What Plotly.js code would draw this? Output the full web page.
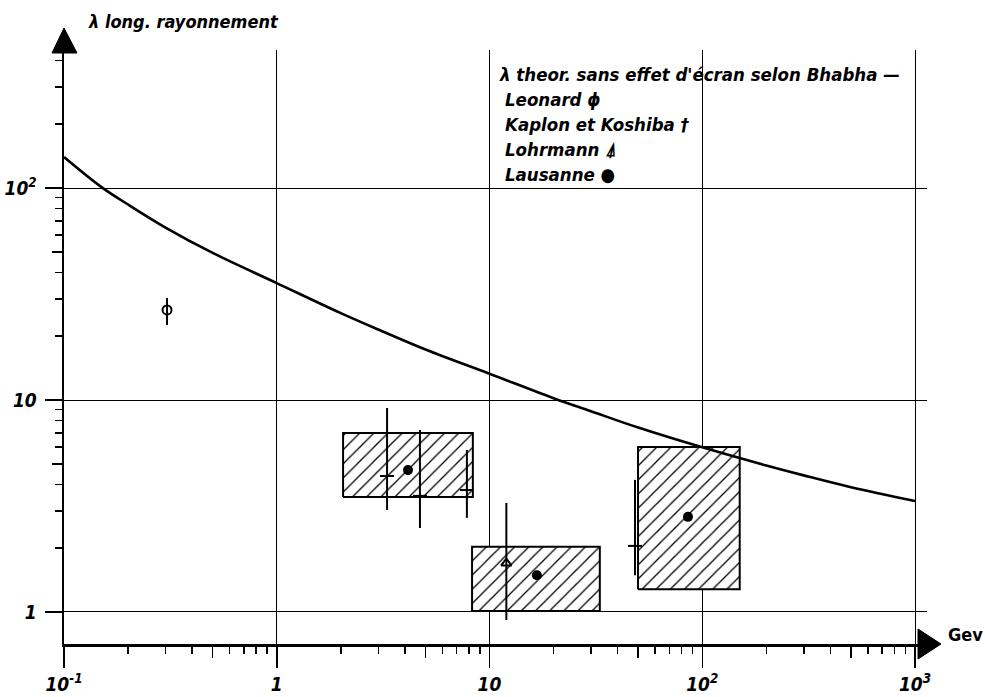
<!DOCTYPE html>
<html>
<head>
<meta charset="utf-8">
<script src="https://cdn.plot.ly/plotly-3.0.1.min.js"></script>
<style>html,body{margin:0;padding:0;background:#fff;}#chart{width:985px;height:697px;}</style>
</head>
<body>
<div id="chart"></div>
<script>
// ---- data ----
const theoryE      = [0.1, 0.15, 0.2, 0.3, 0.5, 1, 2, 3, 5, 10, 20, 30, 50, 100, 200, 300, 500, 1000];
const theoryLambda = [140, 101, 83.6, 65.1, 49.4, 35.6, 25.7, 21.5, 17.3, 13.3, 10.2, 8.85, 7.41, 5.98, 4.91, 4.41, 3.88, 3.34];

const leonardE = [0.305];
const leonardL = [26.6];
const leonardHi = [30.3];
const leonardLo = [22.6];

const kaplonE  = [3.30, 4.71, 7.83, 48.3];
const kaplonL  = [4.38, 3.53, 3.76, 2.05];
const kaplonHi = [9.17, 7.22, 5.81, 4.2];
const kaplonLo = [3.03, 2.49, 2.78, 1.49];

const lohrmannE  = [12.0];
const lohrmannL  = [1.70];
const lohrmannHi = [3.27];
const lohrmannLo = [0.917];

const lausanneE = [4.14, 16.7, 85.7];
const lausanneL = [4.67, 1.49, 2.81];
const boxEmin = [2.05, 8.28, 49.9];
const boxEmax = [8.35, 33.0, 150];
const boxLmin = [3.49, 1.01, 1.28];
const boxLmax = [6.99, 2.03, 6.0];

const xTickVals = [0.1, 1, 10, 100, 1000];
const xTickText = ['10<sup>-1</sup>', '1', '10', '10<sup>2</sup>', '10<sup>3</sup>'];
const yTickVals = [1, 10, 100];
const yTickText = ['1', '10', '10<sup>2</sup>'];

const legendLines = [
  "λ theor. sans effet d'écran selon Bhabha —",
  "Leonard ϕ",
  "Kaplon et Koshiba †",
  "Lohrmann ⍋",
  "Lausanne ●"
];
const yTitle = "λ long. rayonnement";
const xUnit = "Gev";

// ---- helpers ----
const FONT = "'Liberation Sans Narrow', 'DejaVu Sans Condensed', 'Liberation Sans', sans-serif";
const legFont = {family: FONT, size: 18.5, color: '#000', style: 'italic', weight: 700};
const tickFont = {family: FONT, size: 19, color: '#000', style: 'italic', weight: 700};
function errUp(v, hi) { return v.map((y, i) => hi[i] - y); }
function errDn(v, lo) { return v.map((y, i) => y - lo[i]); }
function minorVals(skipFive) {
  const out = [];
  [0.1, 1, 10, 100].forEach(d => {
    for (let k = 2; k <= 9; k++) {
      if (skipFive && k === 5) continue;
      out.push(+(k * d).toPrecision(3));
    }
  });
  return out;
}

const traces = [];
// hatched boxes (Lausanne ranges)
for (let i = 0; i < boxEmin.length; i++) {
  traces.push({
    type: 'scatter', mode: 'lines',
    x: [boxEmin[i], boxEmax[i], boxEmax[i], boxEmin[i], boxEmin[i]],
    y: [boxLmin[i], boxLmin[i], boxLmax[i], boxLmax[i], boxLmin[i]],
    fill: 'toself', fillcolor: '#ffffff',
    fillpattern: {shape: '/', bgcolor: '#ffffff', fgcolor: '#000000', size: 10, solidity: 0.13},
    line: {color: '#000', width: 2},
    hoverinfo: 'skip', showlegend: false
  });
}
// theory curve
traces.push({
  type: 'scatter', mode: 'lines', x: theoryE, y: theoryLambda,
  line: {color: '#000', width: 2.6, shape: 'spline', smoothing: 1},
  showlegend: false, hoverinfo: 'skip'
});
// Leonard
traces.push({
  type: 'scatter', mode: 'markers', x: leonardE, y: leonardL,
  marker: {symbol: 'circle-open', size: 9, color: '#000', line: {width: 2, color: '#000'}},
  error_y: {type: 'data', symmetric: false, array: errUp(leonardL, leonardHi), arrayminus: errDn(leonardL, leonardLo), width: 0, thickness: 2, color: '#000'},
  showlegend: false
});
// Kaplon et Koshiba
traces.push({
  type: 'scatter', mode: 'markers', x: kaplonE, y: kaplonL,
  marker: {symbol: 'line-ew', size: 10, color: '#000', line: {width: 2, color: '#000'}},
  error_y: {type: 'data', symmetric: false, array: errUp(kaplonL, kaplonHi), arrayminus: errDn(kaplonL, kaplonLo), width: 0, thickness: 2, color: '#000'},
  showlegend: false
});
// Lohrmann
traces.push({
  type: 'scatter', mode: 'markers', x: lohrmannE, y: lohrmannL,
  marker: {symbol: 'triangle-up-open', size: 9, color: '#000', line: {width: 2, color: '#000'}},
  error_y: {type: 'data', symmetric: false, array: errUp(lohrmannL, lohrmannHi), arrayminus: errDn(lohrmannL, lohrmannLo), width: 0, thickness: 2, color: '#000'},
  showlegend: false
});
// Lausanne
traces.push({
  type: 'scatter', mode: 'markers', x: lausanneE, y: lausanneL,
  marker: {symbol: 'circle', size: 10, color: '#000'},
  showlegend: false
});
// invisible helper so the overlay tick axes get drawn
traces.push({type: 'scatter', mode: 'markers', x: [1], y: [1], xaxis: 'x2', yaxis: 'y2',
  marker: {opacity: 0}, hoverinfo: 'skip', showlegend: false});

const XR = [-1, 3.0564], YR = [-0.151, 2.651];
const W = 863, H = 594, L = 64, T = 50;
function px(x) { return (x - L) / W; }
function py(y) { return (T + H - y) / H; }

const layout = {
  width: 985, height: 697,
  margin: {l: L, r: 985 - L - W, t: T, b: 697 - T - H, pad: 0},
  paper_bgcolor: '#fff', plot_bgcolor: '#fff',
  showlegend: false,
  xaxis: {
    type: 'log', range: XR, tickmode: 'array', tickvals: xTickVals, ticktext: xTickText,
    ticks: 'outside', ticklen: 21, tickwidth: 1.5, tickcolor: '#000',
    showgrid: true, gridcolor: '#000', gridwidth: 1,
    showline: true, linecolor: '#000', linewidth: 2.5, zeroline: false,
    tickfont: tickFont, ticklabelstandoff: 1,
    minor: {tickmode: 'array', tickvals: minorVals(true), ticks: 'outside', ticklen: 7, tickwidth: 1.5, tickcolor: '#000', showgrid: false}
  },
  yaxis: {
    type: 'log', range: YR, tickmode: 'array', tickvals: yTickVals, ticktext: yTickText,
    ticks: 'outside', ticklen: 17, tickwidth: 1.5, tickcolor: '#000',
    showgrid: true, gridcolor: '#000', gridwidth: 1,
    showline: true, linecolor: '#000', linewidth: 2.5, zeroline: false,
    tickfont: tickFont, ticklabelstandoff: 4,
    minor: {tickmode: 'array', tickvals: minorVals(true).filter(v => v >= 1 && v <= 400), ticks: 'outside', ticklen: 7, tickwidth: 1.5, tickcolor: '#000', showgrid: false}
  },
  xaxis2: {
    type: 'log', range: XR, overlaying: 'x', anchor: 'y2', side: 'bottom',
    tickmode: 'array', tickvals: [0.5, 5, 50, 500], ticks: 'outside', ticklen: 13, tickwidth: 1.5, tickcolor: '#000',
    showticklabels: false, showgrid: false, showline: false, zeroline: false
  },
  yaxis2: {
    type: 'log', range: YR, overlaying: 'y', anchor: 'x2', side: 'left',
    tickmode: 'array', tickvals: [5, 50], ticks: 'outside', ticklen: 11, tickwidth: 1.5, tickcolor: '#000',
    showticklabels: false, showgrid: false, showline: false, zeroline: false
  },
  shapes: [
    // y-axis arrow head
    {type: 'path', xref: 'paper', yref: 'paper',
     path: `M ${px(52)} ${py(53)} L ${px(64)} ${py(28)} L ${px(77)} ${py(53)} Z`,
     fillcolor: '#000', line: {color: '#000', width: 1}},
    // x-axis arrow head
    {type: 'path', xref: 'paper', yref: 'paper',
     path: `M ${px(918)} ${py(629)} L ${px(941)} ${py(644)} L ${px(918)} ${py(659)} Z`,
     fillcolor: '#000', line: {color: '#000', width: 1}}
  ],
  annotations: [
    {xref: 'paper', yref: 'paper', x: px(86), y: py(22), xanchor: 'left', yanchor: 'middle',
     text: yTitle, showarrow: false, font: {family: FONT, size: 18, color: '#000', style: 'italic', weight: 700}},
    {xref: 'paper', yref: 'paper', x: px(946), y: py(634), xanchor: 'left', yanchor: 'middle',
     text: xUnit, showarrow: false, font: {family: FONT, size: 18, color: '#000', weight: 700}}
  ].concat(legendLines.map((t, i) => ({
    xref: 'paper', yref: 'paper', x: px(i === 0 ? 497 : 503), y: py(75 + i * 24.75),
    xanchor: 'left', yanchor: 'middle', text: t, showarrow: false, font: legFont
  })))
};

Plotly.newPlot('chart', traces, layout, {displayModeBar: false, staticPlot: true});
</script>
</body>
</html>
